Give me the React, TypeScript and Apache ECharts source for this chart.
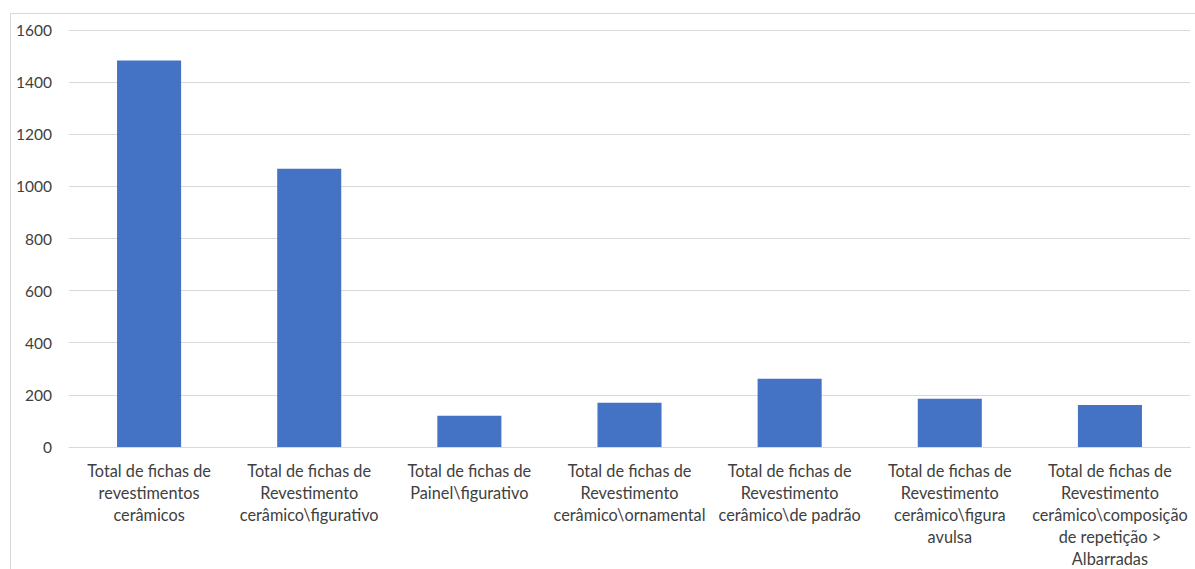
import React, { useEffect, useRef } from "react";
import * as echarts from "echarts";

const categories: string[] = [
  "Total de fichas de\nrevestimentos\ncerâmicos",
  "Total de fichas de\nRevestimento\ncerâmico\\figurativo",
  "Total de fichas de\nPainel\\figurativo",
  "Total de fichas de\nRevestimento\ncerâmico\\ornamental",
  "Total de fichas de\nRevestimento\ncerâmico\\de padrão",
  "Total de fichas de\nRevestimento\ncerâmico\\figura\navulsa",
  "Total de fichas de\nRevestimento\ncerâmico\\composição\nde repetição >\nAlbarradas",
];
const values: number[] = [1483, 1068, 120, 170, 262, 185, 161];
const yTicks = { min: 0, max: 1600, interval: 200 };

const FONT = "Lato";

export default function App() {
  const ref = useRef<HTMLDivElement>(null);
  useEffect(() => {
    if (!ref.current) return;
    const chart = echarts.init(ref.current, undefined, { renderer: "svg" });
    chart.setOption({
      animation: false,
      graphic: [
        {
          type: "rect",
          shape: { x: 10.5, y: 13.5, width: 1200, height: 600 },
          style: { fill: "none", stroke: "#d9d9d9", lineWidth: 1 },
          silent: true,
        },
      ],
      grid: { left: 69, right: 5, top: 30, bottom: 121.3, containLabel: false },
      xAxis: {
        type: "category",
        data: categories,
        axisLine: { show: true, lineStyle: { color: "#d9d9d9", width: 1 } },
        axisTick: { show: false },
        axisLabel: {
          interval: 0,
          fontFamily: FONT,
          fontSize: 16.3,
          color: "#404040",
          lineHeight: 22,
          margin: 12,
          align: "center",
        },
      },
      yAxis: {
        type: "value",
        min: yTicks.min,
        max: yTicks.max,
        interval: yTicks.interval,
        axisLine: { show: false },
        axisTick: { show: false },
        splitLine: { lineStyle: { color: "#d9d9d9", width: 1 } },
        axisLabel: {
          fontFamily: FONT,
          fontSize: 15.5,
          color: "#404040",
          margin: 17,
          formatter: (v: number) => String(v),
        },
      },
      series: [
        {
          type: "bar",
          data: values,
          barWidth: "40%",
          itemStyle: { color: "#4472c4" },
        },
      ],
    });
    return () => chart.dispose();
  }, []);
  return (
    <div
      ref={ref}
      style={{ position: "absolute", left: 0, top: 0, width: 1195, height: 569, background: "#fff" }}
    />
  );
}
